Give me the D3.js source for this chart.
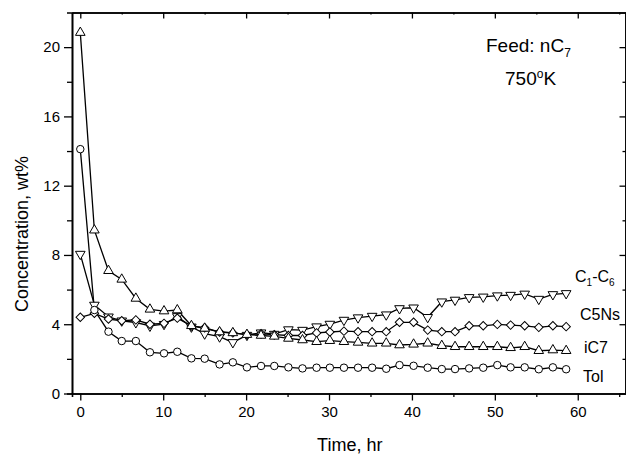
<!DOCTYPE html>
<html>
<head>
<meta charset="utf-8">
<script src="https://cdn.jsdelivr.net/npm/d3@7"></script>
<style>
  body { margin: 0; background: #fff; }
  svg text { font-family: "Liberation Sans", Arial, sans-serif; font-weight: normal; fill: #000; }
</style>
</head>
<body>
<svg id="chart" width="626" height="456"></svg>
<script>
// time on stream, hr
const times = [0, 1.7, 3.4, 5.0, 6.7, 8.4, 10.1, 11.7, 13.4, 15.0, 16.8, 18.4,
  20.1, 21.8, 23.4, 25.1, 26.8, 28.5, 30.1, 31.8, 33.5, 35.2, 36.9, 38.5,
  40.2, 41.9, 43.6, 45.2, 46.9, 48.6, 50.3, 51.9, 53.6, 55.3, 57.0, 58.6];

// concentrations, wt%
const c1c6 = [8.05, 5.11, 4.43, 4.20, 4.10, 3.90, 4.00, 4.45, 3.85, 3.45, 3.28, 2.95,
  3.37, 3.51, 3.43, 3.69, 3.66, 3.86, 4.01, 4.24, 4.38, 4.47, 4.55, 4.91,
  4.95, 4.40, 5.30, 5.40, 5.55, 5.58, 5.65, 5.68, 5.75, 5.45, 5.72, 5.78];
const c5ns = [4.40, 4.63, 4.30, 4.20, 4.25, 4.00, 4.05, 4.35, 3.90, 3.80, 3.55, 3.50,
  3.40, 3.45, 3.40, 3.35, 3.35, 3.50, 3.55, 3.60, 3.57, 3.57, 3.57, 4.11,
  4.11, 3.66, 3.57, 3.57, 3.91, 3.91, 3.99, 3.95, 3.91, 3.82, 3.91, 3.86];
const ic7 = [20.84, 9.43, 7.09, 6.59, 5.49, 4.86, 4.76, 4.82, 3.91, 3.76, 3.55, 3.50,
  3.40, 3.35, 3.30, 3.18, 3.09, 2.99, 3.05, 2.99, 2.95, 2.90, 2.90, 2.80,
  2.84, 2.90, 2.76, 2.70, 2.70, 2.70, 2.70, 2.64, 2.70, 2.47, 2.51, 2.47];
const tol = [14.11, 4.82, 3.57, 3.03, 3.03, 2.38, 2.32, 2.41, 2.03, 2.01, 1.68, 1.80,
  1.51, 1.59, 1.59, 1.51, 1.45, 1.49, 1.49, 1.49, 1.49, 1.49, 1.43, 1.64,
  1.60, 1.49, 1.41, 1.41, 1.45, 1.49, 1.64, 1.51, 1.51, 1.40, 1.51, 1.40];

const xTicks = [0, 10, 20, 30, 40, 50, 60];
const xMinor = [5, 15, 25, 35, 45, 55, 65];
const yTicks = [0, 4, 8, 12, 16, 20];
const yMinor = [2, 6, 10, 14, 18];

const svg = d3.select("#chart");
const pl = 72, pr = 627.5, pt = 12.5, pb = 393.5;

const x = d3.scaleLinear().domain([-1, 66]).range([pl, pr]);
const y = d3.scaleLinear().domain([0, 22]).range([pb, pt]);

// axes
function styleAxis(g) {
  g.attr("font-family", null);
  g.select(".domain").attr("stroke", "#000").attr("stroke-width", 1.6);
  g.selectAll(".tick line").attr("stroke", "#000").attr("stroke-width", 1.3);
  g.selectAll("text").style("font-size", "15px").attr("fill", "#000");
}

svg.append("g").attr("transform", `translate(0,${pb})`)
  .call(d3.axisBottom(x).tickValues(xMinor).tickSize(3.5).tickFormat(""))
  .call(styleAxis);
svg.append("g").attr("transform", `translate(0,${pb})`)
  .call(d3.axisBottom(x).tickValues(xTicks).tickSizeInner(7).tickSizeOuter(0).tickPadding(6))
  .call(styleAxis);

svg.append("g").attr("transform", `translate(0,${pt})`)
  .call(d3.axisBottom(x).tickValues(xTicks).tickSizeInner(6).tickSizeOuter(0).tickFormat(""))
  .call(styleAxis);
svg.append("g").attr("transform", `translate(0,${pt})`)
  .call(d3.axisBottom(x).tickValues(xMinor).tickSizeInner(2).tickSizeOuter(0).tickFormat(""))
  .call(styleAxis);

svg.append("g").attr("transform", `translate(${pl},0)`)
  .call(d3.axisLeft(y).tickValues(yMinor).tickSize(5).tickFormat(""))
  .call(styleAxis);
svg.append("g").attr("transform", `translate(${pl},0)`)
  .call(d3.axisLeft(y).tickValues(yTicks).tickSizeInner(8).tickSizeOuter(0).tickPadding(4))
  .call(styleAxis);

svg.append("g").attr("transform", `translate(${pr - 2},0)`)
  .call(d3.axisLeft(y).tickValues(yTicks).tickSizeInner(6).tickSizeOuter(0).tickFormat(""))
  .call(styleAxis);
svg.append("g").attr("transform", `translate(${pr - 2},0)`)
  .call(d3.axisLeft(y).tickValues(yMinor).tickSizeInner(3).tickSizeOuter(0).tickFormat(""))
  .call(styleAxis);

// axis titles
svg.append("text")
  .attr("x", (pl + pr) / 2).attr("y", 451)
  .attr("text-anchor", "middle")
  .style("font-size", "18px")
  .text("Time, hr");

svg.append("text")
  .attr("transform", "translate(28,234) rotate(-90)")
  .attr("text-anchor", "middle")
  .style("font-size", "18px")
  .text("Concentration, wt%");

// series
const series = [
  {name: "C1-C6", vals: c1c6, shape: "down"},
  {name: "C5Ns", vals: c5ns, shape: "diamond"},
  {name: "iC7", vals: ic7, shape: "up"},
  {name: "Tol", vals: tol, shape: "circle"}
];

const line = d3.line()
  .x((d, i) => x(times[i]))
  .y(d => y(d));

series.forEach(s => {
  svg.append("path")
    .datum(s.vals)
    .attr("fill", "none")
    .attr("stroke", "#000")
    .attr("stroke-width", 1.3)
    .attr("d", line);
});

const sym = {
  up: d3.symbol().type(d3.symbolTriangle).size(40)(),
  down: d3.symbol().type(d3.symbolTriangle).size(40)(),
  diamond: d3.symbol().type(d3.symbolSquare).size(36)(),
  circle: d3.symbol().type(d3.symbolCircle).size(44)()
};
const rot = {up: 0, down: 180, diamond: 45, circle: 0};

series.forEach(s => {
  svg.append("g").selectAll("path")
    .data(s.vals)
    .enter().append("path")
      .attr("d", sym[s.shape])
      .attr("transform", (d, i) => `translate(${x(times[i])},${y(d)}) rotate(${rot[s.shape]})`)
      .attr("fill", "#fff")
      .attr("stroke", "#000")
      .attr("stroke-width", 1);
});

// series labels
const lab = svg.append("g").style("font-size", "16px");
const t1 = lab.append("text").attr("x", 575).attr("y", 282);
t1.append("tspan").text("C");
t1.append("tspan").attr("dy", 4).style("font-size", "10px").text("1");
t1.append("tspan").attr("dy", -4).text("-C");
t1.append("tspan").attr("dy", 4).style("font-size", "10px").text("6");
lab.append("text").attr("x", 580).attr("y", 320).text("C5Ns");
lab.append("text").attr("x", 584).attr("y", 353).text("iC7");
lab.append("text").attr("x", 583).attr("y", 382).text("Tol");

// annotation
const ann = svg.append("g").style("font-size", "19px");
const f = ann.append("text").attr("x", 486).attr("y", 52);
f.append("tspan").text("Feed: nC");
f.append("tspan").attr("dy", 5).style("font-size", "12px").text("7");
const k = ann.append("text").attr("x", 505).attr("y", 85);
k.append("tspan").text("750");
k.append("tspan").attr("dy", -7).style("font-size", "12px").text("o");
k.append("tspan").attr("dy", 7).text("K");
</script>
</body>
</html>
